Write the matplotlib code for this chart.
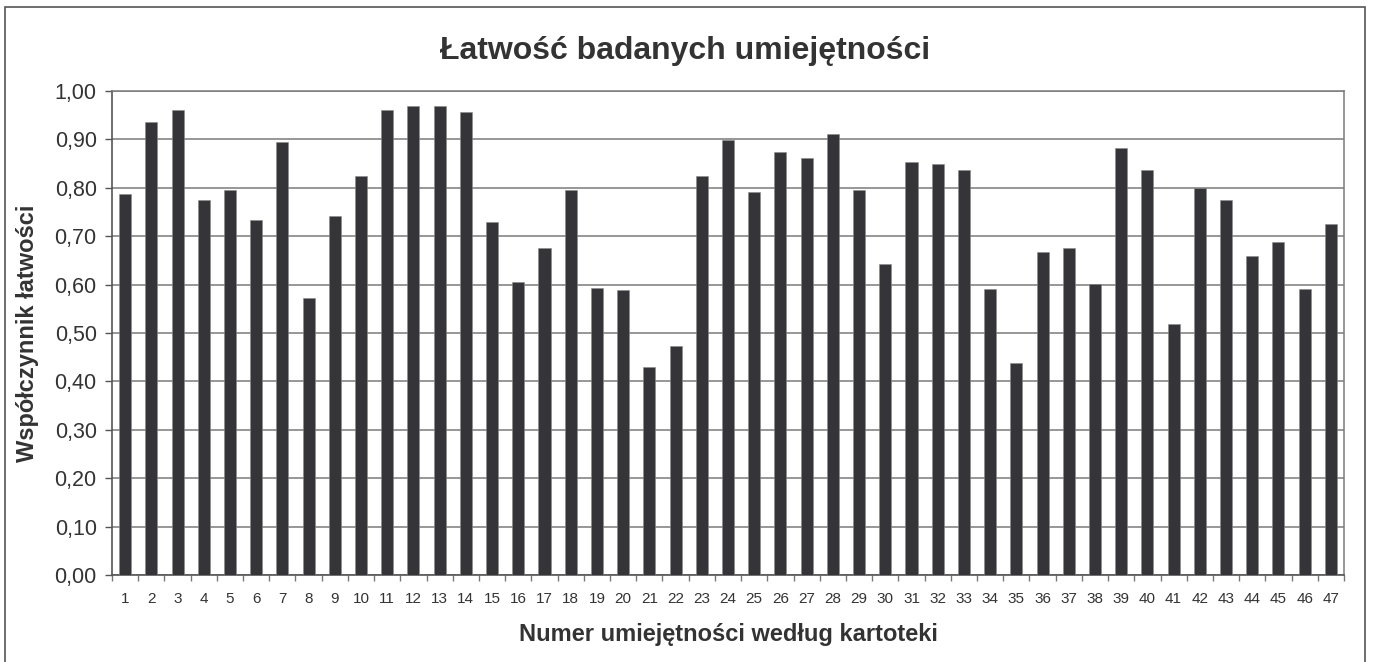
import numpy as np
import matplotlib
matplotlib.use("Agg")
import matplotlib.pyplot as plt
from matplotlib.patches import Rectangle
from matplotlib.ticker import FuncFormatter

plt.rcParams['font.family'] = ['Liberation Sans', 'DejaVu Sans']

# numer umiejetnosci wg kartoteki i wspolczynnik latwosci
numery = [str(i) for i in range(1, 48)]
latwosc = [0.787, 0.935, 0.960, 0.775, 0.796, 0.733, 0.894, 0.573, 0.742, 0.824,
           0.960, 0.968, 0.968, 0.956, 0.729, 0.606, 0.676, 0.796, 0.593, 0.589,
           0.429, 0.474, 0.824, 0.899, 0.791, 0.874, 0.861, 0.911, 0.796, 0.643,
           0.853, 0.849, 0.837, 0.590, 0.437, 0.667, 0.676, 0.602, 0.882, 0.837,
           0.519, 0.799, 0.775, 0.660, 0.688, 0.590, 0.725]
y_ticks = [0.0, 0.1, 0.2, 0.3, 0.4, 0.5, 0.6, 0.7, 0.8, 0.9, 1.0]

txt = '#333333'
bar_col = '#353438'

fig = plt.figure(figsize=(13.73, 6.62), dpi=100)
fig.patch.set_facecolor('white')

# ramka wykresu
fig.patches.append(Rectangle((5/1373, -0.05), 1360/1373, 1.05 - 7/662,
                             transform=fig.transFigure, fill=False,
                             edgecolor='#555555', lw=1.2, zorder=0))

ax = fig.add_axes([112/1373, 1 - 575/662, 1232/1373, 484/662])
x = np.arange(len(latwosc))
ax.bar(x, latwosc, width=0.46, color=bar_col, edgecolor='#8a8a8a', lw=0.4, zorder=3)

ax.set_xlim(-0.5, len(latwosc) - 0.5)
ax.set_ylim(0, 1.0)
ax.set_yticks(y_ticks)
ax.yaxis.set_major_formatter(FuncFormatter(lambda v, p: ('%.2f' % v).replace('.', ',')))
ax.yaxis.grid(True, color='#7a7a7a', lw=1.1, zorder=0)
ax.set_axisbelow(True)

ax.set_xticks(x)
ax.set_xticklabels(numery)
ax.set_xticks(np.arange(-0.5, len(latwosc)), minor=True)
ax.tick_params(axis='x', which='major', length=0, labelsize=11, colors=txt, pad=12)
ax.tick_params(axis='x', which='minor', length=4, color='#777777', width=1)
ax.tick_params(axis='y', length=5, color='#555555', width=1, labelsize=15.5, labelcolor=txt, pad=6)

for s in ['left', 'bottom']:
    ax.spines[s].set_color('#555555')
    ax.spines[s].set_linewidth(1.2)
for s in ['top', 'right']:
    ax.spines[s].set_color('#7a7a7a')
    ax.spines[s].set_linewidth(1.1)

fig.text(685/1373, 1 - 51/662, 'Łatwość badanych umiejętności', ha='center', va='center',
         fontsize=23, fontweight='bold', color=txt)
fig.text(728/1373, 1 - 635/662, 'Numer umiejętności według kartoteki', ha='center', va='center',
         fontsize=17, fontweight='bold', color=txt)
fig.text(28/1373, 1 - 333/662, 'Współczynnik łatwości', rotation=90, ha='center', va='center',
         fontsize=17, fontweight='bold', color=txt)

fig.savefig('out.png', dpi=100)
